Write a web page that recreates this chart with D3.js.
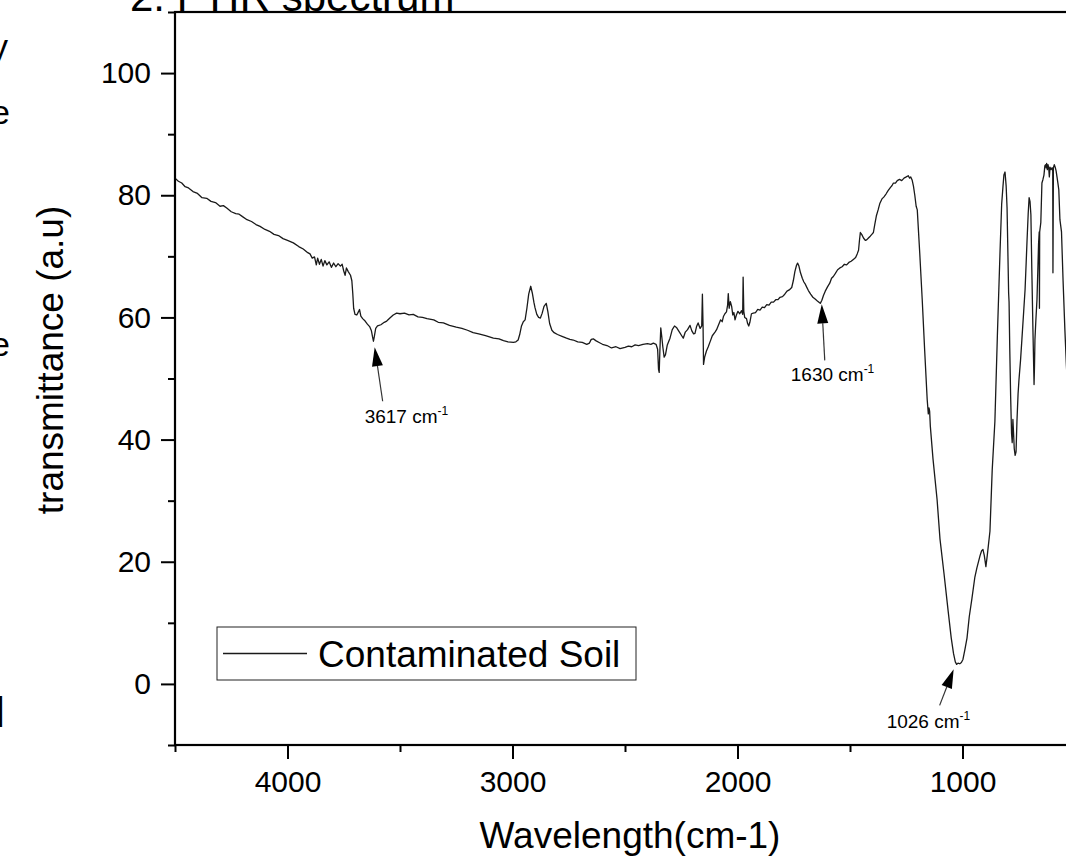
<!DOCTYPE html>
<html><head><meta charset="utf-8">
<script src="https://cdn.jsdelivr.net/npm/d3@7"></script>
<style>
body{margin:0;background:#fff;}
svg{display:block;}
text{font-family:"Liberation Sans",Arial,Helvetica,sans-serif;fill:#000;}
</style>
</head><body>
<svg id="chart" width="1066" height="866"></svg>
<script>
// ---------- data ----------
const titleText = "2. FTIR spectrum";
const seriesName = "Contaminated Soil";
const xAxisTitle = "Wavelength(cm-1)";
const yAxisTitle = "transmittance (a.u)";
const xMajorTicks = [4000, 3000, 2000, 1000];
const xMinorTicks = [4500, 3500, 2500, 1500, 500];
const yMajorTicks = [0, 20, 40, 60, 80, 100];
const yMinorTicks = [-10, 10, 30, 50, 70, 90, 110];
const annotationWn = [3617, 1630, 1026];
const annotationT = [56.1, 62.3, 3.2];

const wavenumber = [4500,4485,4470,4455,4440,4420,4400,4380,4359,4340,4320,4300,4285,4270,4250,4230,4215,4200,4180,4160,4140,4122,4100,4080,4060,4040,4020,4000,3974,3950,3930,3910,3900,3890,3880,3872,3866,3858,3850,3842,3834,3825,3815,3805,3795,3785,3775,3765,3757,3750,3744,3738,3730,3720,3714,3710,3706,3700,3692,3685,3680,3674,3666,3655,3645,3635,3627,3622,3618,3614,3608,3600,3585,3570,3559,3545,3530,3515,3500,3480,3460,3441,3420,3400,3380,3350,3330,3307,3280,3250,3225,3200,3175,3150,3120,3085,3060,3040,3020,2996,2985,2975,2968,2960,2952,2944,2936,2928,2919,2912,2905,2900,2892,2884,2876,2868,2860,2850,2843,2835,2825,2815,2800,2780,2760,2745,2730,2710,2690,2670,2658,2650,2641,2630,2615,2600,2580,2560,2540,2522,2500,2485,2470,2455,2440,2420,2400,2385,2374,2362,2355,2351,2348,2345,2341,2337,2332,2326,2320,2312,2300,2290,2280,2270,2258,2248,2241,2232,2222,2211,2203,2195,2189,2182,2175,2166,2159,2156,2153,2151,2146,2138,2130,2122,2112,2100,2093,2084,2075,2068,2062,2056,2049,2044,2041,2037,2032,2026,2021,2016,2011,2005,1998,1990,1982,1977,1975,1972,1968,1960,1955,1950,1945,1938,1930,1920,1910,1900,1890,1880,1870,1860,1850,1840,1830,1820,1811,1800,1790,1780,1770,1759,1752,1745,1738,1733,1727,1720,1712,1705,1698,1693,1685,1675,1665,1655,1645,1638,1632,1625,1618,1610,1600,1590,1582,1574,1565,1555,1545,1535,1525,1515,1505,1495,1485,1475,1468,1462,1458,1454,1448,1440,1432,1426,1418,1410,1403,1396,1390,1383,1375,1367,1358,1350,1340,1330,1320,1313,1307,1298,1290,1280,1270,1260,1250,1241,1235,1230,1224,1218,1212,1206,1201,1190,1179,1168,1157,1152,1149,1146,1143,1131,1113,1100,1082,1064,1050,1040,1032,1026,1020,1012,1005,998,990,980,970,958,945,936,922,915,909,903,896,890,878,868,856,845,833,826,820,816,811,806,802,798,795,793,790,786,782,779,776,773,770,766,762,758,753,749,742,736,728,722,717,713,708,704,700,696,692,687,682,680,678,674,669,665,662,659,658,657,652,647,643,638,634,631,628,626,623,620,617,614,611,607,602,599,598,596,592,588,584,580,576,572,567,560,553,545,538,530];
const transmittance = [82.8,82.3,82.0,81.4,81.2,80.6,80.3,79.6,79.5,79.0,78.8,78.2,78.3,77.9,77.3,77.0,76.9,76.5,76.0,75.7,75.2,74.9,74.4,74.1,73.6,73.4,72.9,72.6,72.2,71.6,71.2,70.6,70.4,69.7,69.9,68.6,69.7,68.7,69.5,68.4,69.3,68.6,69.1,68.2,68.9,68.3,68.8,68.4,68.7,67.6,66.9,68.1,67.5,66.9,66.0,64.0,61.5,60.5,60.4,60.9,61.3,60.2,59.8,59.4,58.9,58.5,57.8,56.8,56.1,56.9,58.2,58.6,58.8,59.2,59.4,59.9,60.4,60.7,60.6,60.7,60.4,60.5,60.1,60.0,59.8,59.6,59.2,59.1,58.7,58.4,58.2,57.9,57.5,57.3,57.0,56.6,56.5,56.2,56.0,55.9,56.0,56.3,57.2,58.6,59.3,59.6,61.5,63.8,65.1,64.0,62.5,61.6,60.5,60.0,59.9,60.7,61.8,62.3,61.0,59.0,57.9,57.5,57.2,56.9,56.6,56.4,56.3,56.0,55.9,55.6,55.8,56.4,56.5,56.2,55.9,55.6,55.4,55.0,55.2,54.9,55.1,55.3,55.2,55.5,55.4,55.6,55.7,55.6,55.8,55.6,54.8,51.5,51.0,54.5,58.3,57.0,55.2,53.5,53.9,55.5,56.6,58.0,58.6,58.3,57.6,57.0,56.6,57.6,58.0,58.7,57.8,57.3,57.4,58.5,59.1,58.2,58.6,63.8,58.5,52.3,53.5,54.5,55.2,56.0,57.0,57.6,58.0,58.8,59.6,59.3,60.2,60.6,60.9,62.0,63.9,61.5,62.6,61.8,60.4,60.8,59.6,60.4,61.0,60.6,61.1,60.5,66.6,61.0,60.0,59.8,59.0,58.6,59.2,60.6,60.7,60.8,61.3,61.2,61.7,61.6,62.1,62.0,62.5,62.5,62.9,62.9,63.3,63.4,63.8,64.3,64.5,64.9,66.0,67.5,68.5,68.9,68.4,67.3,66.4,65.8,65.4,65.0,64.4,63.8,63.3,63.0,62.7,62.5,62.3,62.8,63.6,64.3,65.0,65.6,66.4,66.7,67.2,67.8,68.1,68.3,68.7,68.6,69.0,69.2,69.5,69.8,70.4,71.0,72.6,73.9,73.6,73.0,72.6,72.7,73.0,73.3,73.6,73.9,75.2,76.6,77.6,78.7,79.4,79.7,80.2,80.8,81.3,81.6,82.0,82.0,82.4,82.6,82.4,82.8,83.0,83.2,82.8,83.0,82.5,81.5,80.0,78.2,77.6,70.5,62.9,54.5,46.6,44.2,45.2,44.6,42.2,36.8,30.2,23.7,18.0,12.0,7.5,5.0,3.6,3.2,3.4,3.3,3.5,4.0,5.5,7.5,11.0,14.0,17.5,19.0,21.0,21.8,22.0,21.0,19.2,21.0,25.0,35.0,43.0,57.0,71.0,78.5,81.5,83.3,83.8,81.5,78.0,70.0,64.0,62.5,55.0,47.0,41.0,39.5,43.3,41.0,38.5,37.4,38.0,43.0,47.5,49.8,53.0,56.4,61.0,64.5,69.0,72.7,77.0,79.6,79.0,76.8,68.0,58.0,49.0,52.0,56.4,59.5,62.9,68.0,72.0,74.0,61.5,74.0,75.5,82.0,82.5,83.3,84.8,85.0,84.5,85.2,84.2,85.0,84.5,83.0,84.6,84.2,84.5,84.0,67.3,84.5,85.0,84.6,84.0,83.0,82.0,80.9,76.0,74.0,66.0,58.0,52.0,46.0];

// ---------- layout ----------
const svg = d3.select("#chart");
const x = d3.scaleLinear().domain([4500, 400]).range([175, 1097.5]);
const y = d3.scaleLinear().domain([-10, 110]).range([745, 12]);
const X0 = x.range()[0], X1 = x.range()[1], Y0 = y.range()[0], Y1 = y.range()[1];

// neighbouring-page fragments at left edge (cropped in the reference too)
[["y",58,-9],["e",124,-9],["e",356,-9],["]",720,-5]].forEach(([c,yy,xx]) => {
  svg.append("text").attr("x", xx).attr("y", yy).attr("font-size", 34).text(c);
});

// title (partly hidden under the frame)
svg.append("text").attr("x", 130).attr("y", 11).attr("font-size", 42).text(titleText);

// plot background
svg.append("rect").attr("x", X0).attr("y", Y1).attr("width", X1 - X0).attr("height", Y0 - Y1).attr("fill", "#fff");

// clip
svg.append("clipPath").attr("id", "clip").append("rect")
  .attr("x", X0).attr("y", Y1).attr("width", X1 - X0).attr("height", Y0 - Y1);

// spectrum
const pts = wavenumber.map((w, i) => [w, transmittance[i]]);
svg.append("path").datum(pts).attr("clip-path", "url(#clip)")
  .attr("fill", "none").attr("stroke", "#1a1a1a").attr("stroke-width", 1.3)
  .attr("stroke-linejoin", "round")
  .attr("d", d3.line().x(d => x(d[0])).y(d => y(d[1])));

// axes
function styleAxis(g) {
  g.select(".domain").remove();
  g.selectAll(".tick line").attr("stroke", "#000").attr("stroke-width", 2);
  g.selectAll(".tick text").attr("font-size", 30).attr("font-family", "Liberation Sans, Arial, sans-serif").attr("fill", "#000");
}
svg.append("g").attr("transform", `translate(0,${Y0})`)
  .call(d3.axisBottom(x).tickValues(xMajorTicks).tickSize(14).tickPadding(12).tickFormat(d3.format("d")))
  .call(styleAxis);
svg.append("g").attr("transform", `translate(0,${Y0})`)
  .call(d3.axisBottom(x).tickValues(xMinorTicks).tickSize(7).tickFormat(""))
  .call(styleAxis);
svg.append("g").attr("transform", `translate(${X0},0)`)
  .call(d3.axisLeft(y).tickValues(yMajorTicks).tickSize(14).tickPadding(10).tickFormat(d3.format("d")))
  .call(styleAxis);
svg.append("g").attr("transform", `translate(${X0},0)`)
  .call(d3.axisLeft(y).tickValues(yMinorTicks).tickSize(7).tickFormat(""))
  .call(styleAxis);

// frame
svg.append("rect").attr("x", X0).attr("y", Y1).attr("width", X1 - X0).attr("height", Y0 - Y1)
  .attr("fill", "none").attr("stroke", "#000").attr("stroke-width", 2.2);

// axis titles
svg.append("text").attr("x", 630).attr("y", 848).attr("text-anchor", "middle").attr("font-size", 37).text(xAxisTitle);
svg.append("text").attr("transform", "translate(63,360) rotate(-90)").attr("text-anchor", "middle").attr("font-size", 37).text(yAxisTitle);

// legend
const lg = svg.append("g");
lg.append("rect").attr("x", 217).attr("y", 627).attr("width", 419).attr("height", 53)
  .attr("fill", "#fff").attr("stroke", "#222").attr("stroke-width", 1);
lg.append("line").attr("x1", 223).attr("x2", 307).attr("y1", 653.5).attr("y2", 653.5)
  .attr("stroke", "#1a1a1a").attr("stroke-width", 1.3);
lg.append("text").attr("x", 318).attr("y", 667).attr("font-size", 37).text(seriesName);

// annotations with arrows
const arrowGeom = [
  {tip:[1, 6], tail:[9, 60], text:[-9, 82]},
  {tip:[1, 1], tail:[4, 57], text:[-30, 78]},
  {tip:[-3, 5], tail:[-17, 41], text:[-70, 64]}
];
annotationWn.forEach((w, i) => {
  const g = arrowGeom[i];
  const px = x(w), py = y(annotationT[i]);
  const tx = px + g.tip[0], ty = py + g.tip[1];
  const sx = px + g.tail[0], sy = py + g.tail[1];
  const ang = Math.atan2(ty - sy, tx - sx);
  const L = 19, W = 5.5;
  const bx = tx - L * Math.cos(ang), by = ty - L * Math.sin(ang);
  const nx = -Math.sin(ang), ny = Math.cos(ang);
  svg.append("line").attr("x1", sx).attr("y1", sy).attr("x2", bx).attr("y2", by)
    .attr("stroke", "#333").attr("stroke-width", 1.2);
  svg.append("path").attr("d", `M${tx},${ty}L${bx + nx * W},${by + ny * W}L${bx - nx * W},${by - ny * W}Z`)
    .attr("fill", "#000");
  const t = svg.append("text").attr("x", px + g.text[0]).attr("y", py + g.text[1]).attr("font-size", 19);
  t.append("tspan").text(w + " cm");
  t.append("tspan").attr("font-size", 12).attr("dy", -8).text("-1");
});
</script>
</body></html>
